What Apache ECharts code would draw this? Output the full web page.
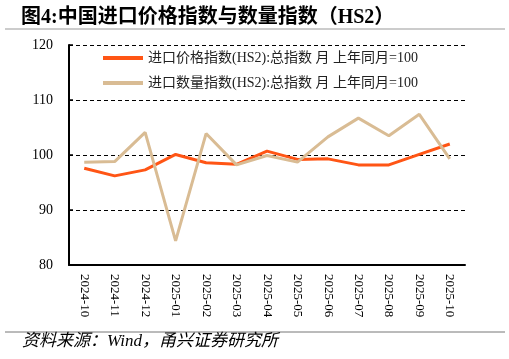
<!DOCTYPE html>
<html><head><meta charset="utf-8">
<script src="https://cdn.jsdelivr.net/npm/echarts@6/dist/echarts.min.js"></script>
<style>html,body{margin:0;padding:0;background:#fff}#c{width:509px;height:359px}</style>
</head><body><div id="c"></div>
<script>
const categories = ['2024-10','2024-11','2024-12','2025-01','2025-02','2025-03','2025-04','2025-05','2025-06','2025-07','2025-08','2025-09','2025-10'];
const priceIndex = [97.6, 96.2, 97.3, 100.1, 98.6, 98.3, 100.7, 99.2, 99.3, 98.2, 98.2, 100.1, 102.0];
const volumeIndex = [98.7, 98.8, 104.1, 84.4, 103.9, 98.2, 99.9, 98.7, 103.3, 106.7, 103.5, 107.4, 99.3];
const priceName = '进口价格指数(HS2):总指数 月 上年同月=100';
const volumeName = '进口数量指数(HS2):总指数 月 上年同月=100';
const titleText = '图4:中国进口价格指数与数量指数（HS2）';
const sourceText = '资料来源：Wind，甬兴证券研究所';

const serif = "'Liberation Serif','Noto Sans CJK SC',serif";
const chart = echarts.init(document.getElementById('c'), null, {renderer:'canvas'});
chart.setOption({
  animation: false,
  backgroundColor: '#fff',
  title: {
    text: titleText, left: 16, top: 3,
    textStyle: {fontFamily: serif, fontSize: 20, fontWeight: 'bold', color: '#000'}
  },
  graphic: [
    {type:'line', shape:{x1:5,y1:29,x2:505,y2:29}, style:{stroke:'#999', lineWidth:1}},
    {type:'line', shape:{x1:5,y1:332,x2:505,y2:332}, style:{stroke:'#777', lineWidth:1}},
    {type:'text', left: 22, top: 333, style:{text: sourceText, font: "italic 17px 'Liberation Serif','Noto Sans CJK SC',serif", fill:'#000'}}
  ],
  legend: {
    orient: 'vertical', left: 98, top: 46, itemGap: 11,
    itemWidth: 40, itemHeight: 4, icon: 'rect',
    textStyle: {fontFamily: serif, fontSize: 14, color: '#222'},
    data: [priceName, volumeName]
  },
  grid: {left: 69, right: 44, top: 45, bottom: 94},
  xAxis: {
    type: 'category', data: categories, boundaryGap: true,
    axisLine: {lineStyle: {color: '#000', width: 2}},
    axisTick: {inside: true, length: 4, lineStyle:{color:'#000', width:1.5}},
    axisLabel: {rotate: -90, margin: 9, fontFamily: serif, fontSize: 13, color: '#000', interval: 0}
  },
  yAxis: {
    type: 'value', min: 80, max: 120, interval: 10,
    axisLine: {show: true, lineStyle: {color: '#000', width: 2}},
    axisTick: {show: true, inside: true, length: 4, lineStyle:{color:'#000', width:1.5}},
    axisLabel: {margin: 16, fontFamily: serif, fontSize: 14, color: '#000'},
    splitLine: {show: true, lineStyle: {color: '#000', type: [4,3], width: 1}}
  },
  series: [
    {name: priceName, type: 'line', data: priceIndex, symbol: 'none', lineStyle: {color: '#FF5515', width: 3}, itemStyle:{color:'#FF5515'}},
    {name: volumeName, type: 'line', data: volumeIndex, symbol: 'none', lineStyle: {color: '#D9BC94', width: 3}, itemStyle:{color:'#D9BC94'}}
  ]
});
</script></body></html>
